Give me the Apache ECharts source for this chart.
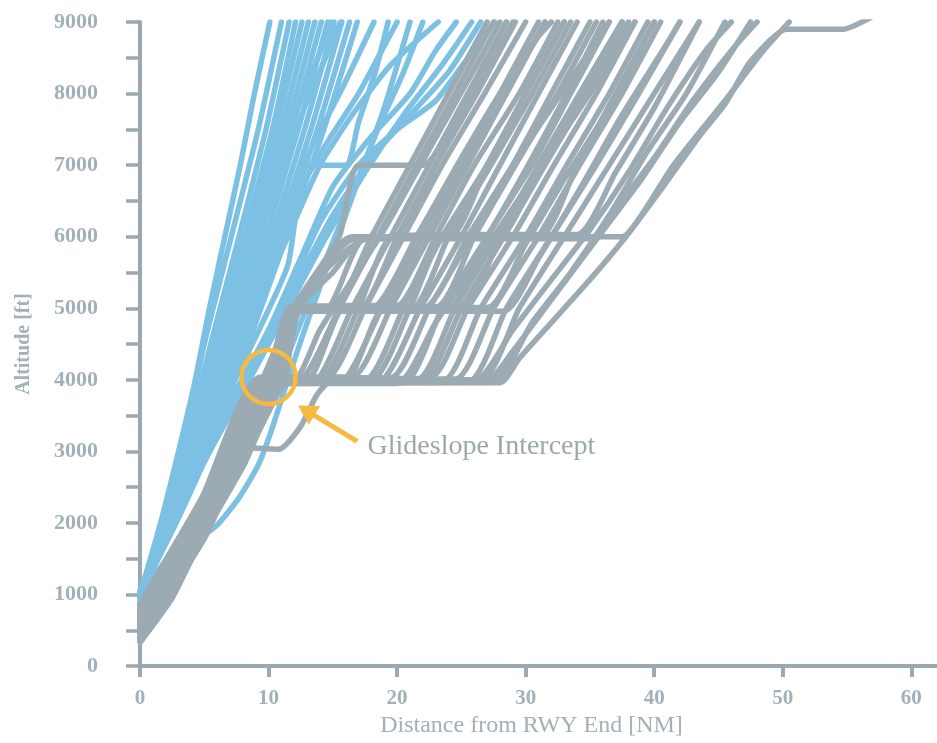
<!DOCTYPE html>
<html><head><meta charset="utf-8">
<script src="https://cdn.jsdelivr.net/npm/echarts@6/dist/echarts.min.js"></script>
<style>html,body{margin:0;padding:0;background:#fff;}#c{width:937px;height:743px;}</style>
</head><body><div id="c"></div>
<script>
// ---- tick labels ----
const xTicks = [0, 10, 20, 30, 40, 50, 60];
const yTicks = [0, 500, 1000, 1500, 2000, 2500, 3000, 3500, 4000, 4500, 5000, 5500, 6000, 6500, 7000, 7500, 8000, 8500, 9000];
const yLabels = [0, 1000, 2000, 3000, 4000, 5000, 6000, 7000, 8000, 9000];

// ---- departures (blue): [distance NM, altitude ft] ----
const dep01 = [[0,1000],[1.6,2000],[3,3000],[4.3,4000],[5.4,5000],[6.6,6000],[7.8,7000],[8.9,8000],[10.1,9000]];
const dep02 = [[0,980],[1.7,2000],[3.3,3000],[5.0,4500],[7.1,6000],[9.2,7500],[11.0,9000]];
const dep03 = [[0,1020],[1.8,2000],[3.5,3000],[5.5,4500],[7.7,6000],[9.8,7500],[11.6,9000]];
const dep04 = [[0,950],[1.9,2000],[3.6,3000],[5.8,4500],[8.1,6000],[10.3,7500],[12.1,9000]];
const dep05 = [[0,1000],[2.0,2000],[3.8,3000],[6.1,4500],[8.4,6000],[10.6,7500],[12.6,9000]];
const dep06 = [[0,1050],[2.1,2000],[3.9,3000],[6.3,4500],[8.7,6000],[11.0,7500],[13.1,9000]];
const dep07 = [[0,970],[2.2,2000],[4.1,3000],[6.6,4500],[9.0,6000],[11.4,7500],[13.6,9000]];
const dep08 = [[0,1000],[2.3,2000],[4.3,3000],[6.9,4500],[9.4,6000],[11.8,7500],[14.1,9000]];
const dep09 = [[0,1030],[2.4,2000],[4.5,3000],[7.2,4500],[9.8,6000],[12.3,7500],[14.6,9000]];
const dep10 = [[0,990],[2.5,2000],[4.7,3000],[7.5,4500],[10.2,6000],[12.8,7500],[15.1,9000]];
const dep11 = [[0,1010],[2.6,2000],[4.9,3000],[7.8,4500],[10.6,6000],[13.3,7500],[15.7,9000]];
const dep12 = [[0,960],[2.7,2000],[5.1,3000],[8.1,4500],[11.0,6000],[13.8,7500],[16.3,9000]];
const dep13 = [[0,1000],[2.8,2000],[5.3,3000],[8.4,4500],[11.4,6000],[14.3,7500],[16.9,9000]];
const dep14 = [[0,1000],[2,1300],[4.4,1750],[6,1970],[7.7,2350],[9.2,2810],[10.2,3280],[11.5,4000],[13,4800],[15,5800],[17,6800],[19,7800],[21,9000]];
const dep15 = [[0,1050],[3,2400],[6,3500],[9,4600],[11.5,5600],[13,7000],[16,7000],[17,7600],[18.3,8300],[19.3,9000]];
const dep16 = [[0,1000],[4,2500],[8,3900],[11,5000],[14,6200],[17,7000],[20,7500],[23,7900],[25.5,8500],[27.6,9000]];
const dep17 = [[0,1000],[3.5,2600],[7,3700],[10,4700],[12.5,5700],[15,6700],[18,7400],[21,8000],[23,8600],[24.6,9000]];
const dep18 = [[0,900],[3,2500],[6.5,4000],[9.5,5400],[12,6500],[14.5,7300],[17,8000],[18.8,8600],[20,9000]];
const dep19 = [[0,950],[3.2,2700],[6.2,3900],[9,5000],[11.5,6000],[14,7000],[16.5,7700],[19.5,8400],[23.2,9000]];
const dep20 = [[0,1000],[5,2200],[8.5,3200],[10.5,3900],[12.5,4800],[14.5,5700],[16.5,6600],[18.5,7500],[20.5,8300],[22,9000]];
const dep21 = [[0,1000],[4.2,2600],[8.2,3900],[11.5,5000],[14.5,6000],[17.5,6900],[20.5,7700],[23.5,8400],[25.8,9000]];
const dep22 = [[0,980],[2.9,2300],[5.6,3500],[8.6,5000],[11,6300],[13.5,7300],[15.8,8100],[18.2,9000]];
const dep23 = [[0,1020],[4.6,2800],[8.8,4200],[12,5300],[15,6300],[18,7100],[21,7700],[24,8300],[26.5,9000]];
const dep24 = [[0,1000],[2.2,2100],[4.4,3300],[6.8,4700],[9.1,6100],[11.4,7400],[13.4,8300],[14.9,9000]];
const dep25 = [[0,990],[2.5,2200],[4.9,3500],[7.3,4800],[9.7,6200],[12.1,7500],[14.2,8400],[15.6,9000]];

// ---- arrivals (grey) ----
const arr01 = [[0,600],[5,2050],[10.7,4000],[12.5,4010],[15.5,5000],[18.5,6000],[21.5,7000],[24.5,8000],[27.5,9000]];
const arr02 = [[0,480],[5,1900],[11.1,3980],[13.5,3980],[16.5,5000],[19.5,6000],[22.5,7000],[25.5,8000],[28.5,9000]];
const arr03 = [[0,760],[5,2200],[10.2,4020],[14.5,4020],[17.5,5000],[20.5,6000],[23.5,7000],[26.8,8000],[30,9000]];
const arr04 = [[0,350],[2.5,1000],[4.5,1700],[8,2800],[11.5,3960],[15.5,3960],[18.8,5000],[22,6000],[25,7000],[28,8000],[31,9000]];
const arr05 = [[0,880],[4.8,2350],[9.4,4040],[16.5,4040],[19.5,5000],[22.5,6000],[25.5,7000],[28.5,8000],[31.5,9000]];
const arr06 = [[0,650],[5,2100],[10.6,4000],[17.5,4000],[20.5,5000],[23.5,6000],[27,7000],[30,8000],[33,9000]];
const arr07 = [[0,420],[5,1830],[11.3,3970],[18.5,3970],[21.8,5000],[25,6000],[28,7000],[31,8000],[34,9000]];
const arr08 = [[0,820],[5,2280],[10,4030],[19.5,4030],[22.5,5000],[25.8,6000],[29,7000],[32,8000],[35,9000]];
const arr09 = [[0,380],[5,1780],[11.4,3960],[20.5,3960],[23.5,5000],[27,6000],[30.2,7000],[33.2,8000],[36,9000]];
const arr10 = [[0,560],[5,2000],[10.8,4000],[21.5,4000],[24.5,5000],[27.8,6000],[31,7000],[34.2,8000],[37.5,9000]];
const arr11 = [[0,860],[5,2320],[9.7,4020],[22.5,4020],[25.5,5000],[29,6000],[32.2,7000],[35.5,8000],[38.5,9000]];
const arr12 = [[0,520],[5,1960],[11,3980],[23.5,3980],[26.5,5000],[30,6000],[33.2,7000],[36.5,8000],[39.5,9000]];
const arr13 = [[0,700],[5,2150],[10.4,4010],[24.5,4010],[27.5,5000],[31,6000],[34.2,7000],[37.5,8000],[40.5,9000]];
const arr14 = [[0,400],[5,1800],[11.4,3970],[25.5,3970],[28.5,5000],[32,6000],[35.5,7000],[38.8,8000],[42,9000]];
const arr15 = [[0,620],[5,2080],[10.6,4000],[26.5,4000],[29.5,5000],[33,6000],[36.5,7000],[40,8000],[43.5,9000]];
const arr16 = [[0,450],[5,1880],[11.2,3990],[27.5,3990],[30.5,4800],[33.5,5500],[36.5,6300],[39.5,7200],[42.5,8000],[45.5,9000]];
const arr17 = [[0,360],[2.6,1000],[4.6,1710],[8,2800],[11.5,3950],[28,3960],[29.5,4300],[32,4800],[35,5400],[37.8,6000],[40.5,6650],[43.5,7400],[45.5,7850],[47.5,8450],[50.3,8900],[54.7,8900],[57.2,9100]];
const arr18 = [[0,660],[5,2110],[10.4,4000],[12.2,5000],[15,5000],[18,6000],[21,7000],[24,8000],[27,9000]];
const arr19 = [[0,540],[5,1990],[10.8,4000],[12.4,4980],[17,4980],[20,6000],[23,7000],[26.2,8000],[29.2,9000]];
const arr20 = [[0,730],[5,2170],[10.3,4000],[12,5030],[19,5030],[22,6000],[25.3,7000],[28.5,8000],[31.5,9000]];
const arr21 = [[0,430],[5,1860],[11.2,4000],[12.6,4970],[21,4970],[24,6000],[27.3,7000],[30.5,8000],[33.5,9000]];
const arr22 = [[0,800],[5,2250],[10,4000],[11.8,5020],[23,5020],[26,6000],[29.2,7000],[32.5,8000],[35.5,9000]];
const arr23 = [[0,600],[5,2040],[10.6,4000],[12.3,4990],[25,4990],[28,6000],[31.3,7000],[34.5,8000],[37.5,9000]];
const arr24 = [[0,500],[5,1940],[11,4000],[12.5,5010],[27,5010],[30,5900],[33,6800],[36.5,7800],[40,9000]];
const arr25 = [[0,690],[5,2130],[10.5,4000],[12.2,4960],[28.3,4960],[31,5700],[34,6600],[37.5,7700],[41,8700],[42,9000]];
const arr26 = [[0,780],[5,2230],[10.1,4000],[13,4000],[16,5040],[20,5040],[23,6000],[26,7000],[29.5,8000],[32.5,9000]];
const arr27 = [[0,470],[5,1900],[11.1,4000],[16,4000],[19,5000],[24,5000],[27,6000],[30.5,7000],[33.5,8000],[36.5,9000]];
const arr28 = [[0,710],[5,2160],[10.4,4000],[12.3,5000],[15,5500],[17.5,6000],[20,6000],[23,7000],[26,8000],[29,9000]];
const arr29 = [[0,570],[5,2010],[10.8,4000],[12.5,5000],[14.5,5000],[17.5,5980],[24,5980],[27,7000],[30,8000],[33,9000]];
const arr30 = [[0,640],[5,2090],[10.6,4000],[14,4000],[17,5000],[19.8,6020],[28,6020],[31,7000],[34.2,8000],[37.5,9000]];
const arr31 = [[0,840],[5,2300],[9.9,4000],[11.8,5000],[16,5800],[18,5990],[31,5990],[34,7000],[37,8000],[40,9000]];
const arr32 = [[0,510],[5,1950],[11,4000],[18,4000],[21,5000],[24,6030],[34,6030],[37,6900],[40,7800],[43.5,9000]];
const arr33 = [[0,680],[5,2120],[10.5,4000],[12.4,5000],[16.5,6000],[37.5,6000],[39,6300],[41.5,7000],[45.5,7900],[48.5,8600],[50.5,9000]];
const arr34 = [[0,870],[4.9,2340],[9.5,4000],[11.9,5000],[15.5,6000],[17,7000],[22,7000],[25,7800],[28.5,9000]];
const arr35 = [[0,390],[5,1790],[11.4,3980],[26,3980],[29,4700],[32,5400],[35,6100],[38,6900],[41,7800],[44,8600],[46,9000]];
const arr36 = [[0,720],[5,2170],[10.3,4000],[12.3,5000],[16.8,5970],[35,5970],[37,6400],[40,7100],[43,7900],[46,8600],[48,9000]];
const arr37 = [[0,790],[5,2240],[10.1,4000],[27,4000],[29,4400],[31.5,5000],[34,5600],[36.5,6200],[39,6800],[42,7600],[45,8300],[47.5,9000]];
const arr38 = [[0,450],[4,1650],[8.5,3050],[10.8,3030],[12.5,3350],[13.8,3800],[15,4000],[22,4000],[25,5000],[28.3,6000],[31.5,7000],[34.8,8000],[38,9000]];
const arr39 = [[0,590],[5,2030],[10.7,4000],[12,4000],[14,4700],[16.5,5400],[19,6100],[21.5,6900],[24,7700],[26.5,8500],[28,9000]];
const arr40 = [[0,330],[2.5,950],[4.5,1680],[8,2780],[11.6,3950],[20,3950],[23,4800],[26,5600],[29,6400],[32,7200],[35,8000],[38.5,9000]];
const arr41 = [[0,750],[5,2190],[10.2,4000],[12.1,5000],[18,5000],[21.5,6000],[25,7100],[28,8000],[31,8800],[32,9000]];
const arr42 = [[0,550],[5,1990],[10.9,4000],[12.4,5000],[22,5000],[25.5,6000],[29,7000],[32,7800],[35,8600],[36.5,9000]];

const departures = [dep01,dep02,dep03,dep04,dep05,dep06,dep07,dep08,dep09,dep10,dep11,dep12,dep13,dep14,dep15,dep16,dep17,dep18,dep19,dep20,dep21,dep22,dep23,dep24,dep25];
const arrivals = [arr01,arr02,arr03,arr04,arr05,arr06,arr07,arr08,arr09,arr10,arr11,arr12,arr13,arr14,arr15,arr16,arr17,arr18,arr19,arr20,arr21,arr22,arr23,arr24,arr25,arr26,arr27,arr28,arr29,arr30,arr31,arr32,arr33,arr34,arr35,arr36,arr37,arr38,arr39,arr40,arr41,arr42];

// ---- annotation anchors (data coordinates) ----
const noteCircle = [10.0, 4040];
const noteArrowTail = [16.9, 3140];
const noteArrowTip = [12.3, 3640];
const noteTextAt = [17.7, 3060];
const noteText = 'Glideslope Intercept';

const blue = '#7cc1e3';
const grey = '#9caab3';
const axisColor = '#9aa9b1';
const labelColor = '#a2b0b7';
const serif = '"Liberation Serif", "DejaVu Serif", serif';

const chart = echarts.init(document.getElementById('c'));

function mk(data, color, name) {
  return {
    type: 'line', name: name, data: data, showSymbol: false, symbol: 'none',
    smooth: 0.2, clip: true, silent: true,
    lineStyle: { color: color, width: 5.5, cap: 'round', join: 'round' }
  };
}

const series = [];
departures.forEach((d, i) => series.push(mk(d, blue, 'dep' + i)));
arrivals.forEach((d, i) => series.push(mk(d, grey, 'arr' + i)));

chart.setOption({
  animation: false,
  backgroundColor: '#ffffff',
  grid: { left: 140, right: 0, top: 22, bottom: 74, containLabel: false },
  xAxis: {
    type: 'value', min: 0, max: 62,
    name: 'Distance from RWY End [NM]', nameLocation: 'middle', nameGap: 46,
    nameTextStyle: { fontFamily: serif, fontSize: 24, color: labelColor, padding: [0, 14, 0, 0] },
    axisLine: { show: true, lineStyle: { color: axisColor, width: 4 } },
    axisTick: { show: true, length: 11, lineStyle: { color: axisColor, width: 4 }, customValues: xTicks },
    axisLabel: { customValues: xTicks, margin: 22, fontFamily: serif, fontWeight: 'bold', fontSize: 21, color: labelColor, formatter: v => String(v) },
    splitLine: { show: false }
  },
  yAxis: {
    type: 'value', min: 0, max: 9000, offset: 16,
    name: 'Altitude [ft]', nameLocation: 'middle', nameGap: 90,
    nameTextStyle: { fontFamily: serif, fontWeight: 'bold', fontSize: 20, color: labelColor },
    axisLine: { show: true, lineStyle: { color: axisColor, width: 4 } },
    axisTick: { show: true, length: 14, lineStyle: { color: axisColor, width: 3.5 }, customValues: yTicks },
    axisLabel: { customValues: yLabels, margin: 26, fontFamily: serif, fontWeight: 'bold', fontSize: 22, color: labelColor, formatter: v => String(v) },
    splitLine: { show: false }
  },
  series: series
});

const c = chart.convertToPixel({ gridIndex: 0 }, noteCircle);
const t0 = chart.convertToPixel({ gridIndex: 0 }, noteArrowTail);
const t1 = chart.convertToPixel({ gridIndex: 0 }, noteArrowTip);
const tx = chart.convertToPixel({ gridIndex: 0 }, noteTextAt);
const dx = t1[0] - t0[0], dy = t1[1] - t0[1];
const L = Math.sqrt(dx * dx + dy * dy);
const ux = dx / L, uy = dy / L;
const headLen = 19, headHalf = 11;
const bx = t1[0] - ux * headLen, by = t1[1] - uy * headLen;
const orange = '#f6b941';

chart.setOption({
  graphic: [
    { type: 'circle', shape: { cx: c[0], cy: c[1], r: 27 }, style: { fill: 'none', stroke: orange, lineWidth: 4.5 }, z: 100 },
    { type: 'line', shape: { x1: t0[0], y1: t0[1], x2: bx + ux * 2, y2: by + uy * 2 }, style: { stroke: orange, lineWidth: 5 }, z: 100 },
    { type: 'polygon', shape: { points: [[t1[0], t1[1]], [bx - uy * headHalf, by + ux * headHalf], [bx + uy * headHalf, by - ux * headHalf]] }, style: { fill: orange }, z: 100 },
    { type: 'text', x: tx[0], y: tx[1], style: { text: noteText, font: '28px ' + serif, fill: '#9ba7ae', align: 'left', verticalAlign: 'middle' }, z: 100 }
  ]
});
</script>
</body></html>
